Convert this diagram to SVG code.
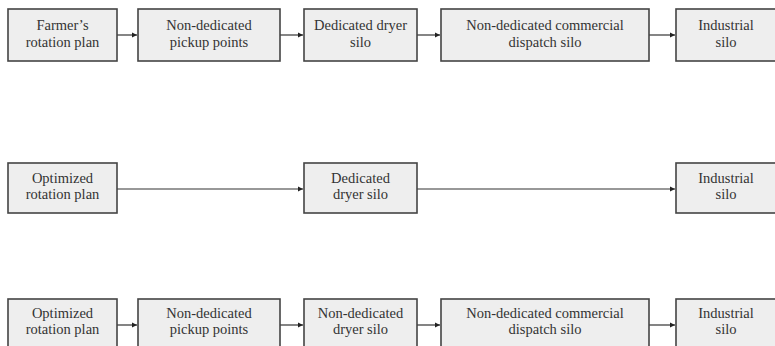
<svg xmlns="http://www.w3.org/2000/svg" width="775" height="346" viewBox="0 0 775 346">
<defs>
<marker id="ah" markerWidth="6" markerHeight="6" refX="5" refY="3" orient="auto" markerUnits="userSpaceOnUse">
<path d="M0,0.5 L5,3 L0,5.5 Z" fill="#222"/>
</marker>
<style>
.box{fill:#eeeeee;stroke:#444;stroke-width:1.6}
.t{font-family:"Liberation Serif","Times New Roman",serif;font-size:14.5px;fill:#333;text-anchor:middle}
.c{stroke:#333;stroke-width:1.2;fill:none;marker-end:url(#ah)}
</style>
</defs>
<rect width="775" height="346" fill="#fff"/>
<g id="connectors">
<line class="c" x1="117" y1="35" x2="137" y2="35"/>
<line class="c" x1="280" y1="35" x2="303" y2="35"/>
<line class="c" x1="417" y1="35" x2="440" y2="35"/>
<line class="c" x1="649" y1="35" x2="675" y2="35"/>
<line class="c" x1="117" y1="189" x2="303" y2="189"/>
<line class="c" x1="417" y1="189" x2="675" y2="189"/>
<line class="c" x1="117" y1="325" x2="137" y2="325"/>
<line class="c" x1="280" y1="325" x2="303" y2="325"/>
<line class="c" x1="417" y1="325" x2="440" y2="325"/>
<line class="c" x1="649" y1="325" x2="675" y2="325"/>
</g>
<g id="r1n1"><rect class="box" x="8" y="9" width="109" height="52"/><text class="t" x="62.5" y="30">Farmer’s</text><text class="t" x="62.5" y="47">rotation plan</text></g>
<g id="r1n2"><rect class="box" x="138" y="9" width="142" height="52"/><text class="t" x="209" y="30">Non-dedicated</text><text class="t" x="209" y="47">pickup points</text></g>
<g id="r1n3"><rect class="box" x="304" y="9" width="113" height="52"/><text class="t" x="360.5" y="30">Dedicated dryer</text><text class="t" x="360.5" y="47">silo</text></g>
<g id="r1n4"><rect class="box" x="441" y="9" width="208" height="52"/><text class="t" x="545" y="30">Non-dedicated commercial</text><text class="t" x="545" y="47">dispatch silo</text></g>
<g id="r1n5"><rect class="box" x="676" y="9" width="104" height="52"/><text class="t" x="726" y="30">Industrial</text><text class="t" x="726" y="47">silo</text></g>
<g id="r2n1"><rect class="box" x="8" y="163" width="109" height="50"/><text class="t" x="62.5" y="183">Optimized</text><text class="t" x="62.5" y="199">rotation plan</text></g>
<g id="r2n2"><rect class="box" x="304" y="163" width="113" height="50"/><text class="t" x="360.5" y="183">Dedicated</text><text class="t" x="360.5" y="199">dryer silo</text></g>
<g id="r2n3"><rect class="box" x="676" y="163" width="104" height="50"/><text class="t" x="726" y="183">Industrial</text><text class="t" x="726" y="199">silo</text></g>
<g id="r3n1"><rect class="box" x="8" y="299" width="109" height="60"/><text class="t" x="62.5" y="318">Optimized</text><text class="t" x="62.5" y="334">rotation plan</text></g>
<g id="r3n2"><rect class="box" x="138" y="299" width="142" height="60"/><text class="t" x="209" y="318">Non-dedicated</text><text class="t" x="209" y="334">pickup points</text></g>
<g id="r3n3"><rect class="box" x="304" y="299" width="113" height="60"/><text class="t" x="360.5" y="318">Non-dedicated</text><text class="t" x="360.5" y="334">dryer silo</text></g>
<g id="r3n4"><rect class="box" x="441" y="299" width="208" height="60"/><text class="t" x="545" y="318">Non-dedicated commercial</text><text class="t" x="545" y="334">dispatch silo</text></g>
<g id="r3n5"><rect class="box" x="676" y="299" width="104" height="60"/><text class="t" x="726" y="318">Industrial</text><text class="t" x="726" y="334">silo</text></g>
</svg>
